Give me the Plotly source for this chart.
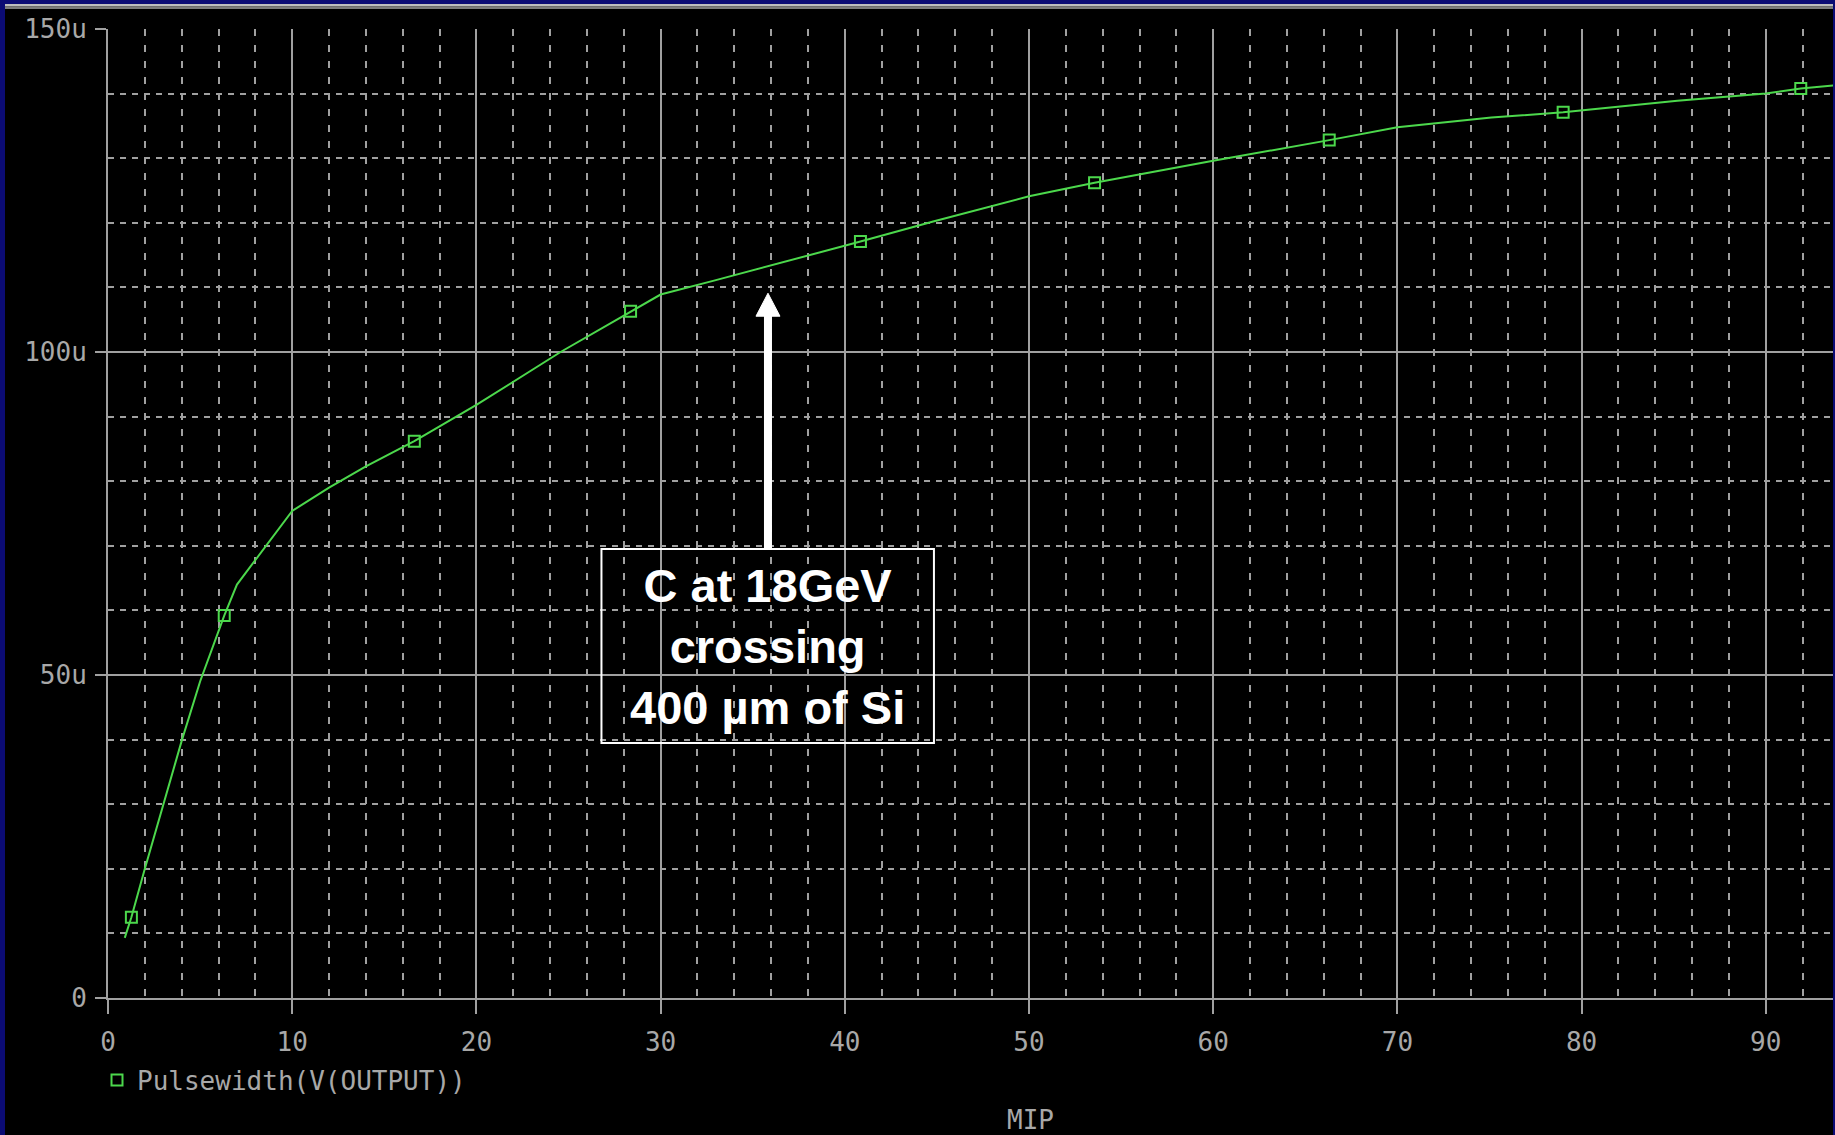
import plotly.graph_objects as go

# Pulse width of V(OUTPUT) versus deposited charge in MIP units (PSpice sweep)
mip_curve = [0.91, 1.27, 2.0, 3.0, 4.0, 5.0, 6.31, 7.0, 10.0, 12.0, 14.0,
             16.63, 20.0, 24.57, 28.37, 30.0, 32.9, 36.0, 40.85, 44.8, 50.0,
             53.56, 60.0, 66.3, 70.0, 75.1, 79.0, 85.2, 90.0, 91.9, 93.8]
pw_curve_us = [9.3, 12.5, 20.0, 30.0, 39.8, 49.0, 59.2, 64.0, 75.4, 79.0, 82.3,
               86.2, 91.8, 100.0, 106.3, 108.9, 111.05, 113.4, 117.1, 120.2, 124.1,
               126.2, 129.6, 132.8, 134.8, 136.3, 137.1, 138.9, 140.0, 140.8, 141.3]

# Sample points carrying the trace symbol
mip_marks = [1.27, 6.31, 16.63, 28.37, 40.85, 53.56, 66.3, 79.0, 91.9]
pw_marks_us = [12.5, 59.2, 86.2, 106.3, 117.1, 126.2, 132.8, 137.1, 140.8]

x_ticks = [0, 10, 20, 30, 40, 50, 60, 70, 80, 90]
y_ticks = [0, 50, 100, 150]
y_tick_text = ["0", "50u", "100u", "150u"]

trace_name = "Pulsewidth(V(OUTPUT))"
x_title = "MIP"
note_lines = ["C at 18GeV", "crossing", "400 µm of Si"]

W, H = 1835, 1135
ML, MR, MT, MB = 108, 2, 29, 137
X_MAX = 93.65
Y_MAX = 150

GREEN = "#4cd84c"
GRID = "#a0a0a0"
LABEL = "#a8a8a8"
NAVY = "#0b0b74"
MONO = "DejaVu Sans Mono"
MONO_SIZE = 26

plot_w = W - ML - MR
plot_h = H - MT - MB


def px_x(p):
    return (p - ML) / plot_w


def px_y(p):
    return (H - MB - p) / plot_h


fig = go.Figure()
fig.add_trace(go.Scatter(
    x=mip_curve, y=pw_curve_us, mode="lines",
    line=dict(color=GREEN, width=2), showlegend=False, hoverinfo="skip"))
fig.add_trace(go.Scatter(
    x=mip_marks, y=pw_marks_us, mode="markers", name=trace_name,
    marker=dict(symbol="square-open", size=11, color=GREEN,
                line=dict(color=GREEN, width=2))))

# Window frame: navy border and the grey strip along the top
frame = [
    dict(x0=px_x(0), x1=px_x(5), y0=px_y(H), y1=px_y(0), c=NAVY),
    dict(x0=px_x(0), x1=px_x(W), y0=px_y(4), y1=px_y(0), c=NAVY),
    dict(x0=px_x(W - 2), x1=px_x(W), y0=px_y(H), y1=px_y(0), c=NAVY),
    dict(x0=px_x(5), x1=px_x(W - 2), y0=px_y(6.5), y1=px_y(4), c="#bdbdbd"),
    dict(x0=px_x(5), x1=px_x(W - 2), y0=px_y(9), y1=px_y(6.5), c="#7c7c7c"),
]
shapes = [dict(type="rect", xref="paper", yref="paper", x0=f["x0"], x1=f["x1"],
               y0=f["y0"], y1=f["y1"], fillcolor=f["c"], line=dict(width=0),
               layer="above") for f in frame]

# Callout box and arrow pointing at the curve
arrow_x = 35.83
arrow_tip = 109.1
head_len = 23 / (plot_h / Y_MAX)
head_half = 12 / (plot_w / X_MAX)
box = dict(x0=26.79, x1=44.84, y0=39.47, y1=69.5)
shapes.append(dict(type="rect", xref="x", yref="y", x0=box["x0"], x1=box["x1"],
                   y0=box["y0"], y1=box["y1"], line=dict(color="white", width=2),
                   fillcolor="rgba(0,0,0,0)"))
shapes.append(dict(type="line", xref="x", yref="y", x0=arrow_x, x1=arrow_x,
                   y0=box["y1"], y1=arrow_tip - head_len + 0.3,
                   line=dict(color="white", width=8)))
shapes.append(dict(type="path", xref="x", yref="y",
                   path=(f"M {arrow_x - head_half},{arrow_tip - head_len} "
                         f"L {arrow_x + head_half},{arrow_tip - head_len} "
                         f"L {arrow_x},{arrow_tip} Z"),
                   fillcolor="white", line=dict(color="white", width=1)))

annotations = [
    dict(x=arrow_x, y=(box["y0"] + box["y1"]) / 2 - 0.1, xref="x", yref="y",
         text="<b>" + "<br>".join(note_lines) + "</b>", showarrow=False,
         align="center",
         font=dict(family="Liberation Sans, Arial", size=47, color="white"),
         xanchor="center", yanchor="middle"),
    dict(x=50.1, y=px_y(1120), xref="x", yref="paper", text=x_title,
         showarrow=False, font=dict(family=MONO, size=MONO_SIZE, color=LABEL),
         xanchor="center", yanchor="middle"),
]

fig.update_layout(
    width=W, height=H, autosize=False,
    margin=dict(l=ML, r=MR, t=MT, b=MB, pad=0),
    paper_bgcolor="black", plot_bgcolor="black",
    font=dict(family=MONO, size=MONO_SIZE, color=LABEL),
    shapes=shapes, annotations=annotations,
    showlegend=True,
    legend=dict(x=px_x(97), y=px_y(1080), xanchor="left", yanchor="middle",
                bgcolor="rgba(0,0,0,0)", borderwidth=0,
                font=dict(family=MONO, size=MONO_SIZE, color=LABEL)),
    xaxis=dict(range=[0, X_MAX], tickvals=x_ticks, ticks="outside", ticklen=14,
               tickwidth=2, tickcolor=GRID, showline=True, linecolor=GRID,
               linewidth=2, showgrid=True, gridcolor=GRID, gridwidth=2,
               zeroline=False, ticklabelstandoff=6,
               minor=dict(dtick=2, tick0=0, showgrid=True, gridcolor=GRID,
                          gridwidth=2, griddash="7px,9px", ticks="")),
    yaxis=dict(range=[0, Y_MAX], tickvals=y_ticks, ticktext=y_tick_text,
               ticks="outside", ticklen=11, tickwidth=2, tickcolor=GRID,
               showline=True, linecolor=GRID, linewidth=2, showgrid=True,
               gridcolor=GRID, gridwidth=2, zeroline=False, ticklabelstandoff=3,
               minor=dict(dtick=10, tick0=0, showgrid=True, gridcolor=GRID,
                          gridwidth=2, griddash="6px,6px", ticks="")),
)

fig.write_html("out.html")
